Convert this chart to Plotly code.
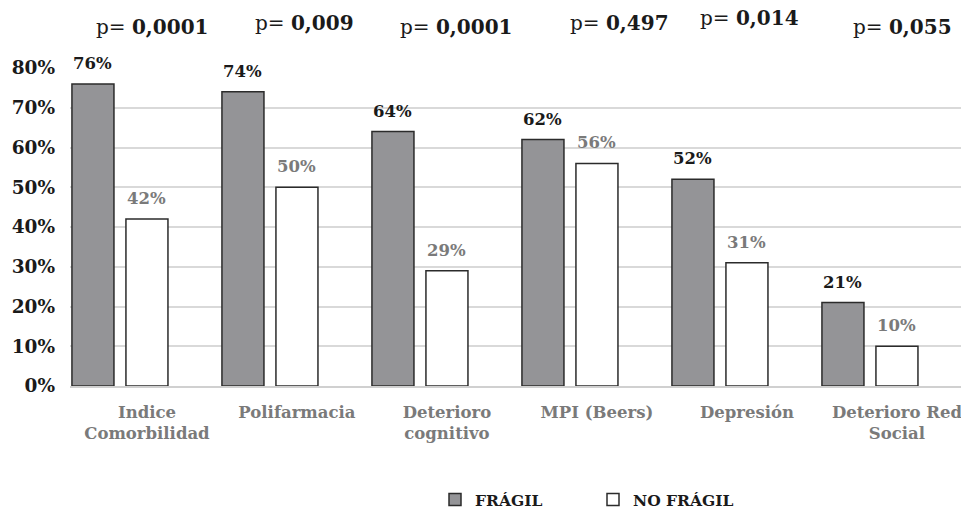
import plotly.graph_objects as go

categories = ["Indice<br>Comorbilidad", "Polifarmacia", "Deterioro<br>cognitivo",
              "MPI (Beers)", "Depresión", "Deterioro Red<br>Social"]
fragil = [76, 74, 64, 62, 52, 21]
no_fragil = [42, 50, 29, 56, 31, 10]
p_values = ["0,0001", "0,009", "0,0001", "0,497", "0,014", "0,055"]
p_xshift = [32, 35, 36, 50, 30, 33]
p_yshift = [41, 45, 41, 45, 50, 41]

FONT = "DejaVu Serif"
x = list(range(len(categories)))

fig = go.Figure()
fig.add_trace(go.Bar(
    x=x, y=fragil, name="<b>FRÁGIL</b>",
    marker=dict(color="#949497", line=dict(color="#2b2b2b", width=1.5)),
))
fig.add_trace(go.Bar(
    x=x, y=no_fragil, name="<b>NO FRÁGIL</b>",
    marker=dict(color="#ffffff", line=dict(color="#2b2b2b", width=1.5)),
))

# value labels above bars
for vals, dx, col in ((fragil, -27, "#1a1a1a"), (no_fragil, 27, "#7a7a7a")):
    for i, v in enumerate(vals):
        fig.add_annotation(
            x=i, xref="x", y=v, yref="y", yanchor="bottom",
            xshift=dx, yshift=9, showarrow=False,
            text=f"<b>{v}%</b>",
            font=dict(family=FONT, size=16.5, color=col),
        )

for i, (p, dx, dy) in enumerate(zip(p_values, p_xshift, p_yshift)):
    fig.add_annotation(
        x=i, xref="x", y=1, yref="paper", yanchor="middle",
        xshift=dx, yshift=dy, showarrow=False,
        text=f"p= <b>{p}</b>",
        font=dict(family=FONT, size=20, color="#1a1a1a"),
    )

fig.update_layout(
    width=961, height=513,
    margin=dict(l=70, r=0, t=68, b=127),
    paper_bgcolor="white", plot_bgcolor="white",
    barmode="group", bargap=0.28, bargroupgap=0.222,
    showlegend=True,
    legend=dict(orientation="h", x=435 / 961, xanchor="left", xref="container",
                y=13 / 513, yanchor="middle", yref="container",
                font=dict(family=FONT, size=15.5, color="#1a1a1a"),
                entrywidth=113, entrywidthmode="pixels", itemwidth=30),
    xaxis=dict(
        range=[-0.333, 5.607], tickmode="array", tickvals=x, ticktext=[f"<b>{c}</b>" for c in categories],
        tickfont=dict(family=FONT, size=16.5, color="#7a7a7a"),
        ticklabelshift=27, ticklabelstandoff=10, ticklabeloverflow="allow",
        ticks="", showline=True, linecolor="#d0d0d0", linewidth=1.5,
        showgrid=False, zeroline=False,
    ),
    yaxis=dict(
        range=[0, 80], tickvals=[0, 10, 20, 30, 40, 50, 60, 70, 80],
        ticktext=[f"<b>{v}%</b>" for v in range(0, 90, 10)],
        tickfont=dict(family=FONT, size=18.5, color="#1a1a1a"),
        showgrid=True, gridcolor="#d9d9d9", gridwidth=1.5, zeroline=False,
        ticks="", ticklabelstandoff=14,
    ),
)

fig.write_html("out.html", config={"displayModeBar": False},
               post_script="document.body.style.margin='0';")
